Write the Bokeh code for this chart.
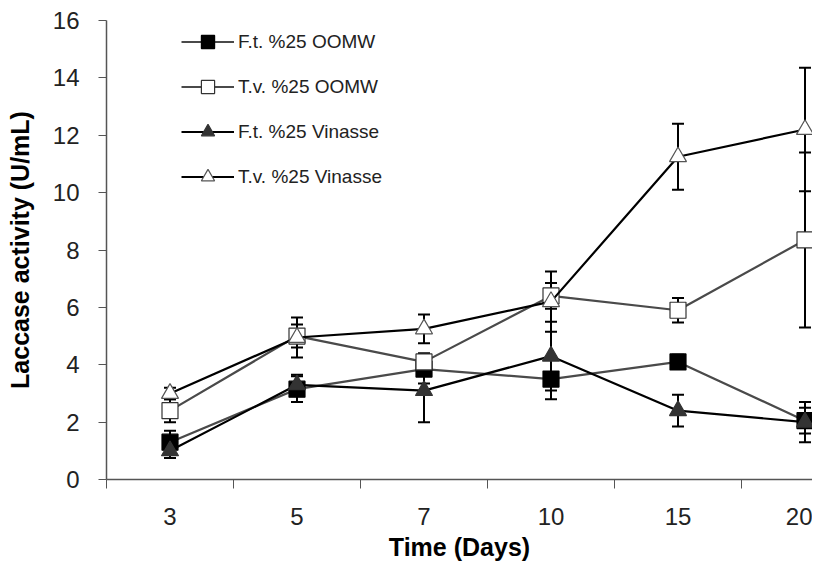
from bokeh.plotting import figure
from bokeh.models import (Range1d, FixedTicker, Whisker, TeeHead, ColumnDataSource,
                          Legend, LegendItem)
from bokeh.embed import file_html
from bokeh.resources import INLINE

# ---- data ----
days = ["3", "5", "7", "10", "15", "20"]
ft_oomw = [1.3, 3.15, 3.85, 3.5, 4.1, 2.05]
ft_oomw_err = [0.4, 0.45, 0.5, 0.7, 0.25, 0.45]
tv_oomw = [2.4, 5.0, 4.1, 6.4, 5.9, 8.35]
tv_oomw_err = [0.4, 0.4, 0.3, 0.45, 0.43, 3.05]
ft_vin = [1.0, 3.3, 3.1, 4.3, 2.4, 2.0]
ft_vin_err = [0.25, 0.35, 1.1, 1.2, 0.55, 0.7]
tv_vin = [3.0, 4.95, 5.25, 6.2, 11.25, 12.2]
tv_vin_err = [0.2, 0.7, 0.5, 1.05, 1.15, 2.15]
y_ticks = [0, 2, 4, 6, 8, 10, 12, 14, 16]

xs = list(range(len(days)))
FONT = "Liberation Sans"

p = figure(width=812, height=569, output_backend="svg", toolbar_location=None,
           x_range=Range1d(-0.5, -0.5 + 706 / 127), y_range=Range1d(0, 16),
           min_border_left=106, min_border_right=0, min_border_top=20, min_border_bottom=90)
p.outline_line_color = None
p.xgrid.visible = False
p.ygrid.visible = False
p.background_fill_color = "white"

series = [
    ("F.t. %25 OOMW", ft_oomw, ft_oomw_err, "#4a4a4a", "square", "black", "black"),
    ("T.v. %25 OOMW", tv_oomw, tv_oomw_err, "#4a4a4a", "square", "white", "#333333"),
    ("F.t. %25 Vinasse", ft_vin, ft_vin_err, "black", "triangle", "#333333", "#333333"),
    ("T.v. %25 Vinasse", tv_vin, tv_vin_err, "black", "triangle", "white", "#555555"),
]

items = []
for label, vals, errs, lcol, marker, fill, mline in series:
    src = ColumnDataSource(dict(x=xs, y=vals,
                                lo=[v - e for v, e in zip(vals, errs)],
                                hi=[v + e for v, e in zip(vals, errs)]))
    ln = p.line("x", "y", source=src, line_color=lcol, line_width=2.2)
    w = Whisker(base="x", lower="lo", upper="hi", source=src, line_color="black", line_width=2,
                upper_head=TeeHead(size=12, line_color="black", line_width=2),
                lower_head=TeeHead(size=12, line_color="black", line_width=2))
    p.add_layout(w)
    sc = p.scatter("x", "y", source=src, marker=marker, size=16 if marker == "square" else 17,
                   fill_color=fill, line_color=mline, line_width=1.2)
    items.append(LegendItem(label=label, renderers=[ln, sc]))

legend = Legend(items=items, location=(75, 286), orientation="vertical",
                glyph_width=53, glyph_height=33, label_height=20, spacing=12,
                label_standoff=4, padding=0, margin=0,
                border_line_color=None, background_fill_alpha=0,
                label_text_font=FONT, label_text_font_size="19px", label_text_color="#222222")
p.add_layout(legend)

# x axis
xa = p.xaxis[0]
xa.ticker = FixedTicker(ticks=xs, minor_ticks=[i - 0.5 for i in range(len(days) + 1)])
xa.major_label_overrides = {i: d for i, d in enumerate(days)}
xa.major_tick_out = 0
xa.major_tick_in = 0
xa.minor_tick_out = 9
xa.minor_tick_in = 0
xa.minor_tick_line_color = "#555555"
xa.axis_line_color = "#555555"
xa.axis_line_width = 1.5
xa.major_label_text_font = FONT
xa.major_label_text_font_size = "24px"
xa.major_label_text_color = "#222222"
xa.major_label_standoff = 19
xa.axis_label = "Time (Days)"
xa.axis_label_text_font = FONT
xa.axis_label_text_font_size = "25px"
xa.axis_label_text_font_style = "bold"
xa.axis_label_text_color = "black"
xa.axis_label_standoff = 5

# y axis
ya = p.yaxis[0]
ya.ticker = FixedTicker(ticks=y_ticks, minor_ticks=[])
ya.major_tick_out = 8
ya.major_tick_in = 0
ya.major_tick_line_color = "#555555"
ya.axis_line_color = "#555555"
ya.axis_line_width = 1.5
ya.major_label_text_font = FONT
ya.major_label_text_font_size = "24px"
ya.major_label_text_color = "#222222"
ya.major_label_standoff = 19
ya.axis_label = "Laccase activity (U/mL)"
ya.axis_label_text_font = FONT
ya.axis_label_text_font_size = "25px"
ya.axis_label_text_font_style = "bold"
ya.axis_label_text_color = "black"
ya.axis_label_standoff = 16

open("out.html", "w").write(file_html(p, INLINE))
